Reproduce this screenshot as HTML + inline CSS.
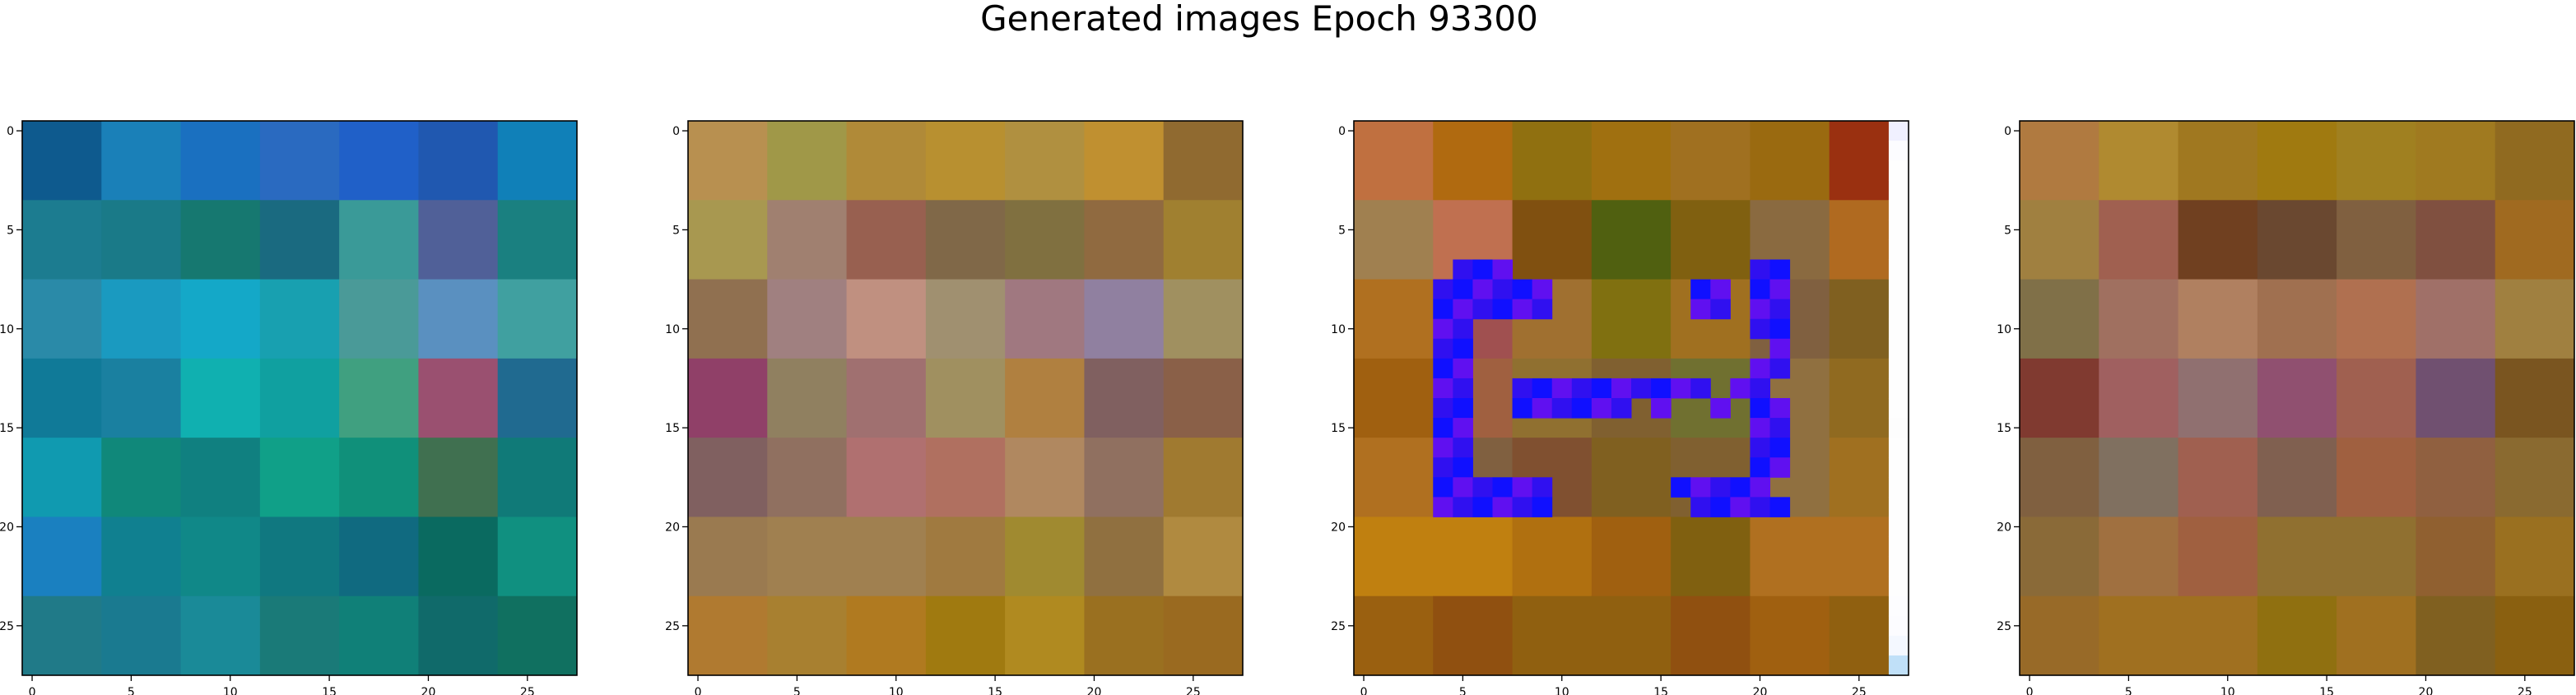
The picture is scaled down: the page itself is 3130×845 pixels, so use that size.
<!DOCTYPE html>
<html><head><meta charset="utf-8">
<style>
html,body{margin:0;padding:0;background:#fff;}
svg{display:block;font-family:"DejaVu Sans","Liberation Sans",sans-serif;}
</style></head>
<body>
<svg id="fig" width="3130" height="845" viewBox="0 0 3130 845">
<text x="1530" y="37" font-size="42" text-anchor="middle" fill="#000">Generated images Epoch 93300</text>
</svg>
<script>
// 7x7 block colour averages (each block = 4x4 pixels of the 28x28 image)
const panel1 = [
 ["#0e5a8e","#1a80b8","#1a70c0","#2a6ac0","#2060c8","#2058b0","#1080b8"],
 ["#1c7c90","#1a7a88","#167870","#1a6a80","#3a9a98","#506098","#1a8080"],
 ["#2a8aa8","#1a9ac0","#14a8c8","#18a0b0","#4a9a98","#5a90c0","#40a0a0"],
 ["#107a98","#1a80a0","#10b0b0","#10a0a0","#40a080","#9a5070","#206a90"],
 ["#109ab0","#10887a","#108080","#10a088","#10907a","#407050","#107a78"],
 ["#1a80c0","#108090","#108888","#107880","#106a80","#0a6a60","#109080"],
 ["#207a88","#1a7a90","#1a8a98","#1a7a78","#108078","#106a6a","#107060"]
];
const panel2 = [
 ["#b89050","#a09848","#b08a38","#b89030","#b09040","#c09030","#906a30"],
 ["#a89850","#a08070","#986050","#806848","#807040","#906a40","#a08030"],
 ["#907050","#a08080","#c09080","#a09070","#a07880","#9080a0","#a09060"],
 ["#904068","#908060","#a07070","#a09060","#b08040","#806060","#8a6048"],
 ["#806060","#907060","#b07070","#b07060","#b08860","#907060","#a07a30"],
 ["#9a7a50","#a08050","#a08050","#a07a40","#a08a30","#907040","#b08a40"],
 ["#b07a30","#a88030","#b07a20","#a07a10","#b08a20","#9a7020","#9a6a20"]
];
const panel3 = [
 ["#c07040","#b06a10","#907010","#a07010","#a07020","#9a6a10","#9a3010"],
 ["#a08050","#c07050","#805010","#506010","#806010","#8a6a40","#b06a20"],
 ["#b07020","#a05050","#a07030","#807010","#a07020","#806040","#806020"],
 ["#a06010","#a06040","#907030","#806030","#707030","#907040","#906a20"],
 ["#b07020","#806040","#805030","#806020","#806030","#907040","#a07020"],
 ["#c08010","#c08010","#b07010","#a06010","#806010","#b07020","#b07020"],
 ["#9a6010","#905010","#906010","#906010","#905010","#a06010","#906010"]
];
const panel4 = [
 ["#b07a40","#b08a30","#a07820","#a07a10","#a08020","#a07a20","#906a20"],
 ["#a08040","#a06050","#704020","#6a4830","#806040","#805040","#a06a20"],
 ["#807048","#a07060","#b08060","#a07050","#b07050","#a07068","#a08040"],
 ["#803a30","#a06060","#907070","#905070","#a06050","#705070","#7a5520"],
 ["#806040","#807060","#a06050","#806050","#a06040","#906040","#8a6a30"],
 ["#8a6a38","#a07040","#a06040","#907030","#907030","#906030","#9a7020"],
 ["#986a28","#a07020","#a07020","#907010","#a07020","#806020","#8a6010"]
];
// panel 3 blue structure: [row, colStart, colEnd]
const blueRuns = [
 [7,5,7],[7,20,21],
 [8,4,9],[8,17,18],[8,20,21],
 [9,4,9],[9,17,18],[9,20,21],
 [10,4,5],[10,20,21],[11,4,5],[11,21,21],[12,4,5],[12,20,21],
 [13,4,5],[13,8,17],[13,19,20],
 [14,4,5],[14,8,13],[14,15,15],[14,18,18],[14,20,21],
 [15,4,5],[15,20,21],[16,4,5],[16,20,21],[17,4,5],[17,20,21],
 [18,4,9],[18,16,20],[19,4,9],[19,17,21]
];
// panel 3 last column (near-white)
const lastCol = ["#f0f0ff","#fcfcff","#fefefe","#fefefe","#fefefe","#fefefe","#fefefe","#fefefe","#fefefe","#fefefe","#fefefe","#fefefe","#fefefe","#fefefe","#fefefe","#fdfdfd","#fefefe","#fefefe","#fefefe","#fefefe","#fefefe","#fefefe","#fefefe","#fefefe","#fdfdff","#fcfcff","#f4f8ff","#c0e0f8"];
const ticks = [0,5,10,15,20,25];
const tickLabels = ["0","5","10","15","20","25"];
const panels = [panel1,panel2,panel3,panel4];
const panelLeft = [27,836,1645,2454];

const NS="http://www.w3.org/2000/svg";
const svg=document.getElementById('fig');
const top0=147, size=674, N=28, cell=size/N;
function mk(tag,attrs,parent){const e=document.createElementNS(NS,tag);for(const k in attrs)e.setAttribute(k,attrs[k]);(parent||svg).appendChild(e);return e;}
function xPos(i,left){return left+i*cell;}
function yPos(j){return top0+j*cell;}

panels.forEach((p,pi)=>{
  const left=panelLeft[pi];
  const g=mk('g',{});
  
  
  p.forEach((row,r)=>row.forEach((c,k)=>{
    const rc=mk('rect',{x:xPos(k*4,left),y:yPos(r*4),width:cell*4+0.5,height:cell*4+0.5,fill:c},g);
    
    
  }));
  if(pi===2){
    blueRuns.forEach(([r,a,b],n)=>{
      for(let c=a;c<=b;c++){
        const col=((r+c)%3===0)?"#3010f0":((r+c)%3===1)?"#1010ff":"#6010f0";
        const rc=mk('rect',{x:xPos(c,left),y:yPos(r),width:cell+0.5,height:cell+0.5,fill:col},g);
        
        
      }
    });
    lastCol.forEach((c,r)=>{
      const rc=mk('rect',{x:xPos(27,left),y:yPos(r),width:cell,height:cell+0.5,fill:c},g);
      
      
    });
  }
  const fr=mk('rect',{x:left,y:top0,width:size,height:size,fill:'none',stroke:'#000','stroke-width':1.6},g);
  
  
  ticks.forEach((t,i)=>{
    const xc=xPos(t+0.5,left), yc=yPos(t+0.5);
    mk('line',{x1:xc,y1:top0+size,x2:xc,y2:top0+size+7,stroke:'#000','stroke-width':1.3},g);
    const xl=mk('text',{x:xc,y:top0+size+25,'font-size':14,'text-anchor':'middle',fill:'#000'},g);
    xl.textContent=tickLabels[i];
    
    
    mk('line',{x1:left-7,y1:yc,x2:left,y2:yc,stroke:'#000','stroke-width':1.3},g);
    const yl=mk('text',{x:left-10,y:yc+5,'font-size':14,'text-anchor':'end',fill:'#000'},g);
    yl.textContent=tickLabels[i];
    
    
  });
});
</script>
</body></html>
